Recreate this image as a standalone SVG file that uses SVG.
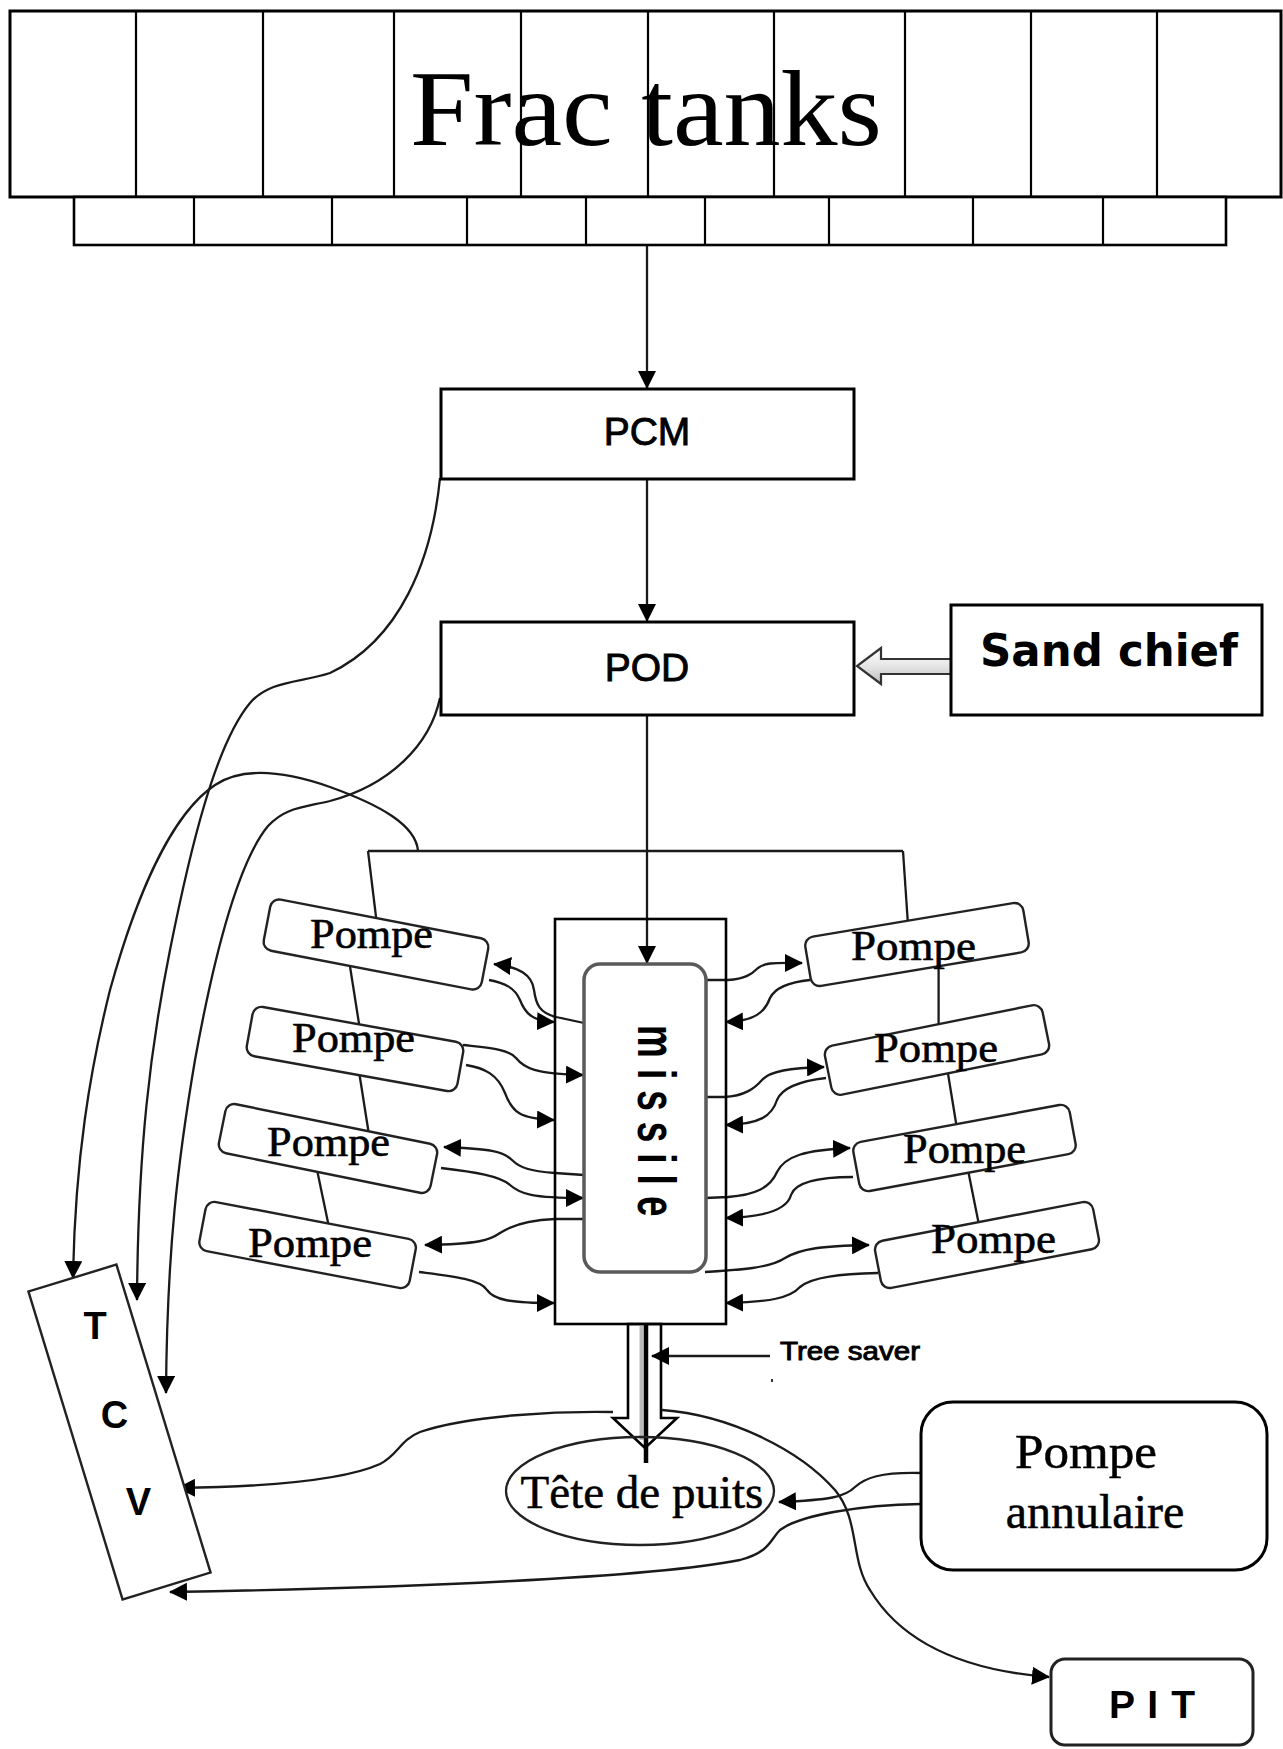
<svg xmlns="http://www.w3.org/2000/svg" width="1283" height="1749" viewBox="0 0 1283 1749">
<style>
.box{fill:#fff;stroke:#000;stroke-width:3}
.pump{fill:#fff;stroke:#222;stroke-width:2.4}
.ln{fill:none;stroke:#1a1a1a;stroke-width:2.3}
.arr{marker-end:url(#ah)}
.serif{font-family:"Liberation Serif","Times New Roman",serif;fill:#000}
.sans{font-family:"Liberation Sans",Arial,sans-serif;fill:#000}
.pt{font-family:"Liberation Serif","Times New Roman",serif;font-size:42px;fill:#000;stroke:#000;stroke-width:0.6}
.heavy{stroke:#000;stroke-width:0.9}
</style>
<defs>
<marker id="ah" viewBox="0 0 18 18" refX="17" refY="9" markerWidth="18" markerHeight="18" markerUnits="userSpaceOnUse" orient="auto">
<path d="M0,0 L18,9 L0,18 Z" fill="#000"/>
</marker>
<linearGradient id="hg" x1="0" y1="0" x2="0" y2="1">
<stop offset="0" stop-color="#ffffff"/>
<stop offset="0.5" stop-color="#e6e6e6"/>
<stop offset="1" stop-color="#bdbdbd"/>
</linearGradient>
</defs>
<rect width="1283" height="1749" fill="#fff"/>

<g id="connectors">
<path class="ln arr" d="M647,245 L647,388" stroke-width="2.8"/>
<path class="ln arr" d="M647,479 L647,621" stroke-width="2.8"/>
<path class="ln arr" d="M647,715 L647,963" stroke-width="2.8"/>
<polygon points="953,659 881,659 881,648 857,666 881,684 881,674 953,674" fill="url(#hg)" stroke="#333" stroke-width="2.2"/>
<path class="ln" d="M368,851 L903,851" stroke-width="2.6"/>
<path class="ln" d="M368,851 L377,925"/>
<path class="ln" d="M903,851 L908,925"/>
<path class="ln" d="M349,960 L360,1030"/>
<path class="ln" d="M358,1065 L369,1135"/>
<path class="ln" d="M316,1165 L330,1232"/>
<path class="ln" d="M938.6,965 L938.6,1035"/>
<path class="ln" d="M946.6,1065 L958,1135"/>
<path class="ln" d="M968,1170 L980.4,1232"/>
<path class="ln arr" d="M584,1023 L556,1017 C540,1013 536,1005 534,990 C532,975 520,967 494,964"/>
<path class="ln arr" d="M489,980 C505,983 515,988 520,1000 C525,1013 532,1021 554,1022"/>
<path class="ln arr" d="M463,1045 C490,1048 508,1049 516,1058 C524,1068 535,1074 583,1075"/>
<path class="ln arr" d="M466,1065 C485,1068 498,1075 505,1093 C512,1112 520,1119 554,1120"/>
<path class="ln arr" d="M584,1175 L555,1173 C530,1171 520,1168 512,1160 C503,1151 490,1149 444,1147"/>
<path class="ln arr" d="M441,1168 C475,1172 500,1176 510,1185 C520,1194 532,1198 583,1198"/>
<path class="ln arr" d="M584,1219 L555,1219 C530,1220 512,1225 500,1233 C490,1240 480,1244 425,1245"/>
<path class="ln arr" d="M419,1272 C450,1276 480,1279 487,1290 C494,1300 510,1303 554,1303"/>
<path class="ln arr" d="M705,980 L728,980 C745,979 752,974 758,968 C766,962 775,963 802,963"/>
<path class="ln arr" d="M810,980 C790,982 775,988 770,998 C765,1012 755,1021 726,1022"/>
<path class="ln arr" d="M705,1097 L724,1097 C745,1096 755,1088 762,1080 C770,1071 790,1068 824,1067"/>
<path class="ln arr" d="M826,1078 C800,1081 782,1088 777,1100 C772,1116 760,1124 726,1125"/>
<path class="ln arr" d="M705,1198 L728,1197 C755,1195 770,1188 777,1172 C785,1156 805,1150 850,1148"/>
<path class="ln arr" d="M853,1177 C815,1177 795,1183 791,1195 C787,1210 765,1217 726,1218"/>
<path class="ln arr" d="M705,1272 C740,1270 770,1268 785,1258 C800,1249 820,1246 869,1245"/>
<path class="ln arr" d="M878,1273 C840,1274 812,1277 800,1287 C790,1298 770,1302 726,1303"/>
<path class="ln arr" d="M418,851 C416,825 380,805 330,787 C290,773 245,765 215,785 C170,815 135,900 110,990 C90,1070 75,1160 73,1278"/>
<path class="ln arr" d="M440,478 C432,560 400,640 330,673 C300,683 270,680 250,703 C215,745 190,850 170,950 C150,1050 138,1150 137,1300"/>
<path class="ln arr" d="M440,698 C430,745 390,785 330,801 C300,808 285,808 268,826 C240,860 215,950 195,1060 C178,1160 167,1250 166,1393"/>
<polygon points="628,1324 628,1418 613,1418 645,1448 677,1418 661,1418 661,1324" fill="#fff" stroke="#000" stroke-width="2.6"/>
<line x1="641.5" y1="1326" x2="641.5" y2="1440" stroke="#bbb" stroke-width="4"/>
<line x1="646" y1="1324" x2="646" y2="1463" stroke="#000" stroke-width="4.5"/>
<path class="ln arr" d="M770,1356 L652,1356" stroke-width="2.8"/>
<path class="ln arr" d="M613,1412 C560,1411 470,1415 420,1432 C400,1440 398,1455 380,1464 C340,1482 250,1487 178,1488"/>
<path class="ln arr" d="M662,1410 C730,1415 800,1450 835,1490 C860,1520 850,1560 870,1590 C900,1640 960,1670 1049,1677"/>
<path class="ln arr" d="M921,1473 C880,1472 865,1478 855,1487 C845,1497 830,1500 779,1502"/>
<path class="ln arr" d="M921,1504 C860,1505 800,1515 780,1530 C770,1540 770,1552 740,1560 C650,1578 400,1588 170,1592"/>
</g>

<g id="frac-tanks">
<rect x="10" y="11" width="1271" height="186" class="box" stroke-width="3.3"/>
<g stroke="#000" stroke-width="2.2">
<line x1="136" y1="11" x2="136" y2="197"/>
<line x1="263" y1="11" x2="263" y2="197"/>
<line x1="394" y1="11" x2="394" y2="197"/>
<line x1="521" y1="11" x2="521" y2="197"/>
<line x1="648" y1="11" x2="648" y2="197"/>
<line x1="774" y1="11" x2="774" y2="197"/>
<line x1="905" y1="11" x2="905" y2="197"/>
<line x1="1031" y1="11" x2="1031" y2="197"/>
<line x1="1157" y1="11" x2="1157" y2="197"/>
</g>
<rect x="74" y="197" width="1152" height="48" fill="#fff" stroke="#000" stroke-width="2.6"/>
<g stroke="#000" stroke-width="2.2">
<line x1="194" y1="197" x2="194" y2="245"/>
<line x1="332" y1="197" x2="332" y2="245"/>
<line x1="467" y1="197" x2="467" y2="245"/>
<line x1="586" y1="197" x2="586" y2="245"/>
<line x1="705" y1="197" x2="705" y2="245"/>
<line x1="829" y1="197" x2="829" y2="245"/>
<line x1="973" y1="197" x2="973" y2="245"/>
<line x1="1103" y1="197" x2="1103" y2="245"/>
</g>
<text class="serif" x="410" y="145" font-size="107" textLength="472" lengthAdjust="spacingAndGlyphs">Frac tanks</text>
</g>

<g id="pcm">
<rect x="441" y="389" width="413" height="90" class="box"/>
<text class="sans heavy" x="647" y="445" font-size="39" text-anchor="middle">PCM</text>
</g>

<g id="pod">
<rect x="441" y="622" width="413" height="93" class="box"/>
<text class="sans heavy" x="647" y="681" font-size="39" text-anchor="middle">POD</text>
</g>

<g id="sand-chief">
<rect x="951" y="605" width="311" height="110" class="box"/>
<text x="980" y="666" font-family="'DejaVu Sans',sans-serif" font-weight="bold" font-size="44" textLength="258" lengthAdjust="spacingAndGlyphs">Sand chief</text>
</g>

<g id="missile-block">
<rect x="555" y="919" width="171" height="405" fill="none" stroke="#000" stroke-width="2.6"/>
</g>

<g id="missile">
<rect x="584" y="964" width="122" height="308" rx="16" fill="#fff" stroke="#5a5a5a" stroke-width="3.5"/>
<text class="sans" font-weight="bold" font-size="37" letter-spacing="11" transform="translate(638,1025) rotate(90) scale(1,1.45)">missile</text>
</g>

<g id="pompe-l1">
<rect class="pump" x="-111" y="-26" width="222" height="52" rx="9" transform="translate(376,944.5) rotate(10.9)"/>
<text class="pt" x="310" y="948" textLength="123" lengthAdjust="spacingAndGlyphs">Pompe</text>
</g>
<g id="pompe-l2">
<rect class="pump" x="-107" y="-25" width="214" height="50" rx="9" transform="translate(355,1049) rotate(10.2)"/>
<text class="pt" x="292" y="1052" textLength="123" lengthAdjust="spacingAndGlyphs">Pompe</text>
</g>
<g id="pompe-l3">
<rect class="pump" x="-108" y="-25" width="216" height="50" rx="9" transform="translate(328,1148.5) rotate(11.5)"/>
<text class="pt" x="267" y="1156" textLength="123" lengthAdjust="spacingAndGlyphs">Pompe</text>
</g>
<g id="pompe-l4">
<rect class="pump" x="-107" y="-25" width="214" height="50" rx="9" transform="translate(307.6,1245) rotate(10.8)"/>
<text class="pt" x="248" y="1257" textLength="124" lengthAdjust="spacingAndGlyphs">Pompe</text>
</g>
<g id="pompe-r1">
<rect class="pump" x="-110.5" y="-25" width="221" height="50" rx="9" transform="translate(917,944.5) rotate(-9.5)"/>
<text class="pt" x="851" y="960" textLength="125" lengthAdjust="spacingAndGlyphs">Pompe</text>
</g>
<g id="pompe-r2">
<rect class="pump" x="-111" y="-25" width="222" height="50" rx="9" transform="translate(937,1050) rotate(-11.4)"/>
<text class="pt" x="874" y="1062" textLength="124" lengthAdjust="spacingAndGlyphs">Pompe</text>
</g>
<g id="pompe-r3">
<rect class="pump" x="-110" y="-25" width="220" height="50" rx="9" transform="translate(964.5,1148) rotate(-10.5)"/>
<text class="pt" x="903" y="1163" textLength="123" lengthAdjust="spacingAndGlyphs">Pompe</text>
</g>
<g id="pompe-r4">
<rect class="pump" x="-111" y="-24" width="222" height="48" rx="9" transform="translate(987,1245) rotate(-10.9)"/>
<text class="pt" x="931" y="1253" textLength="125" lengthAdjust="spacingAndGlyphs">Pompe</text>
</g>

<g id="tcv">
<rect x="-46" y="-161" width="92" height="322" fill="#fff" stroke="#222" stroke-width="2.4" transform="translate(119.5,1432) rotate(-17)"/>
<text class="sans" font-weight="bold" font-size="38" x="95" y="1339" text-anchor="middle">T</text>
<text class="sans" font-weight="bold" font-size="38" x="114.5" y="1428" text-anchor="middle">C</text>
<text class="sans" font-weight="bold" font-size="38" x="138.5" y="1515" text-anchor="middle">V</text>
</g>

<g id="tree-saver">
<text class="sans heavy" x="780" y="1360" font-size="25" stroke-width="0.5" textLength="140" lengthAdjust="spacingAndGlyphs">Tree saver</text>
<rect x="771" y="1379" width="2" height="3" fill="#333"/>
</g>

<g id="tete-de-puits">
<ellipse cx="640" cy="1491" rx="134" ry="54" fill="none" stroke="#222" stroke-width="2.3"/>
<text class="serif" x="642" y="1508" font-size="47" text-anchor="middle" stroke="#000" stroke-width="0.5">Tête de puits</text>
</g>

<g id="pompe-annulaire">
<rect x="921" y="1402" width="346" height="168" rx="32" class="box"/>
<text class="serif" x="1015" y="1468" font-size="48" textLength="142" lengthAdjust="spacingAndGlyphs" stroke="#000" stroke-width="0.5">Pompe</text>
<text class="serif" x="1095" y="1528" font-size="48" text-anchor="middle" stroke="#000" stroke-width="0.5">annulaire</text>
</g>

<g id="pit">
<rect x="1051" y="1659" width="202" height="86" rx="14" fill="#fff" stroke="#222" stroke-width="3"/>
<text class="sans" font-weight="bold" x="1109" y="1718" font-size="39" textLength="86" lengthAdjust="spacing">P I T</text>
</g>
</svg>
